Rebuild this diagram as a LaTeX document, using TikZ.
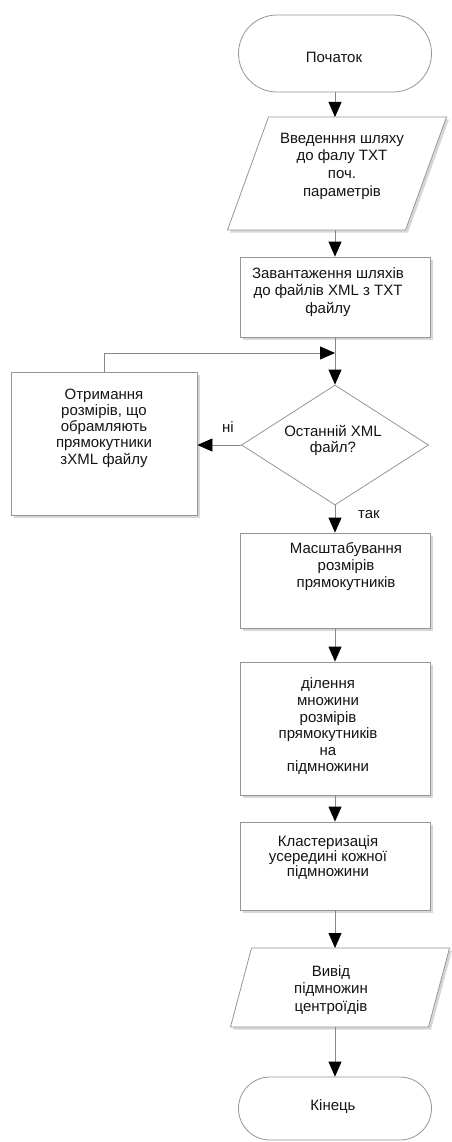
\documentclass[tikz,border=0pt]{standalone}
\usepackage{fontspec}
\setmainfont{Liberation Sans}
\usetikzlibrary{shapes.misc,shapes.geometric,arrows.meta,calc,shadows}

\definecolor{edgegray}{RGB}{150,150,150}
\definecolor{linegray}{RGB}{135,135,135}
\definecolor{inkgray}{RGB}{20,20,20}

\begin{document}
\begin{tikzpicture}[x=1pt,y=-1pt,
  shapebase/.style={draw=edgegray, line width=0.8pt, fill=white, inner sep=0pt},
  boxshadow/.style={drop shadow={shadow xshift=2.5pt, shadow yshift=-2.5pt, fill=black!35, opacity=0.45}},
  terminal/.style={shapebase, rounded rectangle, minimum width=193pt},
  procbox/.style={shapebase, boxshadow, rectangle},
  decision/.style={shapebase, diamond, minimum width=187pt, minimum height=120pt},
  ioframe/.style={inner sep=0pt, outer sep=0pt},
  txt/.style={text=inkgray, align=center, inner sep=0pt, font=\fontsize{15}{#1}\selectfont},
  txt/.default=16.5,
  conn/.style={draw=linegray, line width=0.8pt},
  arr/.style={conn, -{Triangle[length=15pt,width=13pt,color=black]}}
]
\useasboundingbox (0,0) rectangle (451,1142);

% terminals, process boxes, decision
\node[terminal, minimum height=77pt] (start) at (335,53.5) {};
\node[procbox, minimum width=190pt, minimum height=80pt]  (load)   at (335,297)    {};
\node[procbox, minimum width=186pt, minimum height=143pt] (sizes)  at (104,443.5)  {};
\node[decision] (last) at (335,445) {};
\node[procbox, minimum width=190pt, minimum height=95pt]  (scale)  at (335,580.5)  {};
\node[procbox, minimum width=190pt, minimum height=133pt] (split)  at (335,728.5)  {};
\node[procbox, minimum width=190pt, minimum height=88pt]  (clust)  at (335,866)    {};
\node[terminal, minimum height=63pt] (finish) at (335,1108.5) {};

% input / output parallelograms (frame node + slanted outline)
\node[ioframe, minimum width=178pt, minimum height=113pt] (input) at (337,173.5) {};
\draw[shapebase, boxshadow]
  ($(input.north west)+(20.5,0)$) -- ($(input.north east)+(20.5,0)$) --
  ($(input.south east)+(-20.5,0)$) -- ($(input.south west)+(-20.5,0)$) -- cycle;
\node[ioframe, minimum width=198pt, minimum height=79pt] (output) at (340,987.5) {};
\draw[shapebase, boxshadow]
  ($(output.north west)+(10.5,0)$) -- ($(output.north east)+(10.5,0)$) --
  ($(output.south east)+(-10.5,0)$) -- ($(output.south west)+(-10.5,0)$) -- cycle;

% texts
\node[txt] (startT)  at (334,57)    {Початок};
\node[txt=17.7] (inputT) at (342,166) {Введенння шляху\\до фалу TXT\\поч.\\параметрів};
\node[txt=17.5] (loadT)  at (328,292) {Завантаження шляхів\\до файлів XML з TXT\\файлу};
\node[txt=16.3] (sizesT) at (104,428) {Отримання\\розмірів, що\\обрамляють\\прямокутники\\зXML файлу};
\node[txt=16]   (lastT)  at (333,440) {Останній XML\\файл?};
\node[txt=17]   (scaleT) at (346,567) {Масштабування\\розмірів\\прямокутників};
\node[txt=16.6] (splitT) at (328,726.5) {ділення\\множини\\розмірів\\прямокутників\\на\\підмножини};
\node[txt=15]   (clustT) at (328,858) {Кластеризація\\усередині кожної\\підмножини};
\node[txt=17.5] (outputT) at (331,990) {Вивід\\підмножин\\центроїдів};
\node[txt] (finishT) at (333,1107) {Кінець};
\node[txt] (noL)  at (228,427) {ні};
\node[txt] (yesL) at (369,515) {так};

% connectors
\coordinate (joint) at (335,353);
\draw[arr] (start.south) -- (start.south |- input.north);
\draw[arr] (load.north |- input.south) -- (load.north);
\draw[arr] (load.south) -- (last.north);
\draw[arr] (sizes.north) |- (joint);
\draw[arr] (last.west) -- (last.west -| sizes.east);
\draw[arr] (last.south) -- (scale.north);
\draw[arr] (scale.south) -- (split.north);
\draw[arr] (split.south) -- (clust.north);
\draw[arr] (clust.south) -- (clust.south |- output.north);
\draw[arr] (finish.north |- output.south) -- (finish.north);
\end{tikzpicture}
\end{document}
